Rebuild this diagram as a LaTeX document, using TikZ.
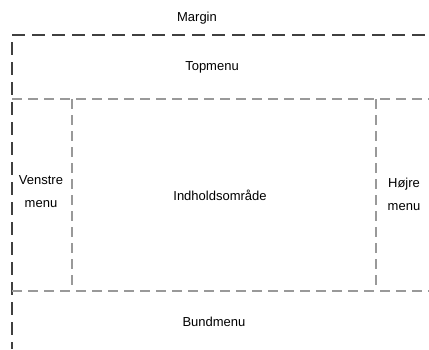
\documentclass[tikz,border=0pt]{standalone}
\usepackage{fontspec}
\setmainfont{Liberation Sans}
\begin{document}
\begin{tikzpicture}[x=1pt,y=-1pt]
	\tikzset{marginline/.style={draw=black!75,line width=1.4pt,dash pattern=on 13pt off 7pt},
		arealine/.style={draw=black!40,line width=1.1pt,dash pattern=on 10pt off 6pt},
		every node/.style={font=\fontsize{13}{23}\selectfont,inner sep=0pt,align=center}}
	\useasboundingbox (0,0) rectangle (429,349);
	% kanter
	\coordinate (tl) at (12,35);
	\coordinate (tr) at (429,35);
	\coordinate (bl) at (12,349);
	\coordinate (ml) at (12,99);
	\coordinate (mr) at (429,99);
	\coordinate (ul) at (12,291);
	\coordinate (ur) at (429,291);
	\coordinate (vt) at (72,99);
	\coordinate (vb) at (72,287);
	\coordinate (ht) at (376,99);
	\coordinate (hb) at (376,287);
	\draw [marginline] (tl) -- (tr);
	\draw [marginline] ([yshift=-7pt]tl) -- (bl);
	\draw [arealine] (ml) -- (mr);
	\draw [arealine] (ul) -- (ur);
	\draw [arealine] (vt) -- (vb);
	\draw [arealine] (ht) -- (hb);
	% tekster
	\node (margin) at (197,18) {Margin};
	\node (top) at (212,67) {Topmenu};
	\node (venstre) at (41,192) {Venstre\\menu};
	\node (indhold) at (220,195) {Indholdsområde};
	\node (hojre) at (404,194) {Højre\\menu};
	\node (bund) at (214,322) {Bundmenu};
\end{tikzpicture}
\end{document}
